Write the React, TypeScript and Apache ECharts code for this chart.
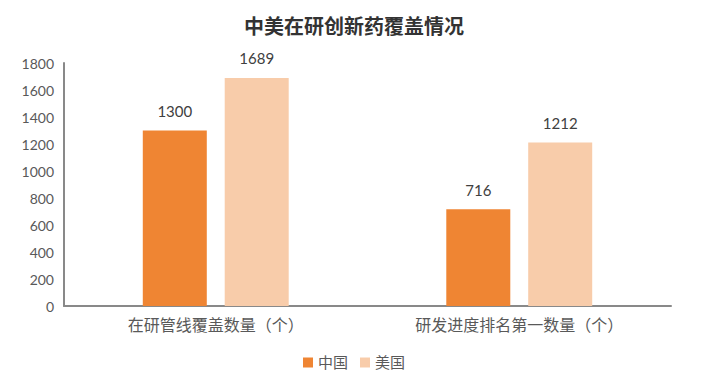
import React, { useEffect, useRef } from "react";
import * as echarts from "echarts";

const categories = ["在研管线覆盖数量（个）", "研发进度排名第一数量（个）"];
const chinaValues = [1300, 716];
const usValues = [1689, 1212];
const seriesNames = ["中国", "美国"];

export default function App() {
  const ref = useRef<HTMLDivElement>(null);
  useEffect(() => {
    if (!ref.current) return;
    const chart = echarts.init(ref.current, null, { renderer: "svg" });
    const font = "Lato, 'Noto Sans CJK SC', 'Noto Sans', sans-serif";
    chart.setOption({
      animation: false,
      backgroundColor: "#ffffff",
      title: {
        text: "中美在研创新药覆盖情况",
        left: "center",
        top: 10,
        textStyle: { fontFamily: "'Noto Sans CJK SC', sans-serif", fontSize: 20, fontWeight: "bold", color: "#333333" },
      },
      legend: {
        data: seriesNames,
        bottom: 16,
        left: "center",
        itemWidth: 10,
        itemHeight: 10,
        itemGap: 12,
        icon: "rect",
        textStyle: { fontFamily: font, fontSize: 15, color: "#595959" },
      },
      grid: { left: 64, right: 37, top: 63, bottom: 85, containLabel: false },
      xAxis: {
        type: "category",
        data: categories,
        axisLine: { lineStyle: { color: "#898989", width: 2 } },
        axisTick: { show: false },
        axisLabel: { fontFamily: font, fontSize: 16, color: "#595959", margin: 10 },
      },
      yAxis: {
        type: "value",
        min: 0,
        max: 1800,
        interval: 200,
        axisLine: { show: true, lineStyle: { color: "#898989", width: 2 } },
        axisTick: { show: false },
        splitLine: { show: false },
        axisLabel: { fontFamily: font, fontSize: 14, color: "#595959", margin: 10, formatter: (v: number) => String(v) },
      },
      series: [
        {
          name: seriesNames[0],
          type: "bar",
          data: chinaValues,
          barWidth: 64,
          barGap: "28%",
          itemStyle: { color: "#EF8533" },
          label: { show: true, position: "top", distance: 12, fontFamily: font, fontSize: 15, color: "#404040" },
        },
        {
          name: seriesNames[1],
          type: "bar",
          data: usValues,
          barWidth: 64,
          barGap: "28%",
          itemStyle: { color: "#F8CCAA" },
          label: { show: true, position: "top", distance: 12, fontFamily: font, fontSize: 15, color: "#404040" },
        },
      ],
    });
    return () => chart.dispose();
  }, []);
  return <div ref={ref} style={{ width: 708, height: 391, position: "fixed", left: 0, top: 0 }} />;
}
